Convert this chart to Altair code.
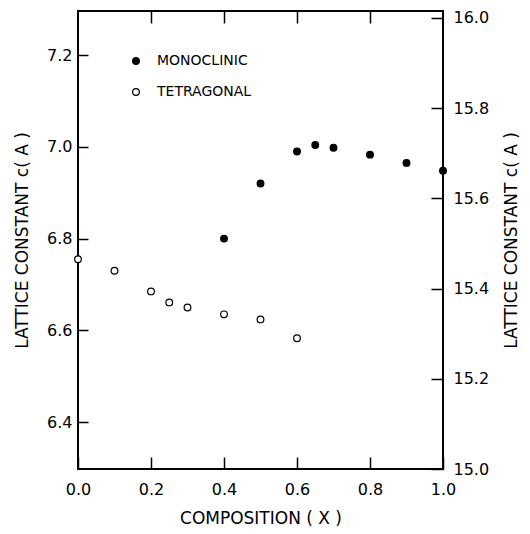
import altair as alt
import pandas as pd

# Data
mono_x = [0.4, 0.5, 0.6, 0.65, 0.7, 0.8, 0.9, 1.0]
mono_c = [6.800, 6.920, 6.990, 7.004, 6.998, 6.983, 6.965, 6.948]
tet_x = [0.0, 0.1, 0.2, 0.25, 0.3, 0.4, 0.5, 0.6]
tet_c = [6.755, 6.730, 6.685, 6.661, 6.650, 6.635, 6.624, 6.583]
series = ["MONOCLINIC", "TETRAGONAL"]

x_ticks = [0.0, 0.2, 0.4, 0.6, 0.8, 1.0]
left_ticks = [6.4, 6.6, 6.8, 7.0, 7.2]
right_ticks = [15.0, 15.2, 15.4, 15.6, 15.8, 16.0]

df = pd.DataFrame({
    "x": mono_x + tet_x,
    "c": mono_c + tet_c,
    "phase": [series[0]] * len(mono_x) + [series[1]] * len(tet_x),
})
right_df = pd.DataFrame({"x": x_ticks, "c2": right_ticks})

FONT = "DejaVu Sans"
xscale = alt.Scale(domain=[0, 1], nice=False, zero=False)

points = alt.Chart(df).mark_point(
    filled=True, size=45, stroke="black", strokeWidth=1.2, opacity=1
).encode(
    x=alt.X("x:Q", scale=xscale, axis=alt.Axis(
        orient="bottom", values=x_ticks, format=".1f",
        title="COMPOSITION  ( X )", offset=-12, tickSize=12,
        labelPadding=12, titlePadding=13, labelFlush=False, labelOverlap=False)),
    y=alt.Y("c:Q", scale=alt.Scale(domain=[6.298, 7.296], nice=False, zero=False),
            axis=alt.Axis(orient="left", values=left_ticks, format=".1f",
                          title="LATTICE  CONSTANT  c( A )", offset=-10, tickSize=10,
                          labelPadding=6, titlePadding=15, labelOverlap=False)),
    fill=alt.Fill("phase:N", scale=alt.Scale(domain=series, range=["black", "white"]),
                  legend=alt.Legend(title=None, orient="none", legendX=51, legendY=43,
                                    symbolType="circle", symbolSize=45,
                                    symbolStrokeColor="black", symbolStrokeWidth=1.2,
                                    labelFontSize=14, labelFont=FONT, labelColor="black",
                                    labelOffset=14, rowPadding=17, padding=0)),
)

right = alt.Chart(right_df).mark_point(opacity=0).encode(
    x=alt.X("x:Q", scale=xscale, axis=alt.Axis(
        orient="top", values=[0.2, 0.4, 0.6, 0.8], labels=False, title="",
        offset=-12, tickSize=12)),
    y=alt.Y("c2:Q", scale=alt.Scale(domain=[15.0, 16.015], nice=False, zero=False),
            axis=alt.Axis(orient="right", values=right_ticks, format=".1f",
                          title="LATTICE  CONSTANT  c( A )", titleAngle=270,
                          offset=-12, tickSize=12, labelPadding=10, titlePadding=32,
                          labelOverlap=False)),
)

chart = alt.layer(points, right).resolve_scale(
    y="independent"
).resolve_axis(
    x="independent", y="independent"
).properties(
    width=365, height=458,
    padding={"left": 70, "top": 3, "right": 79, "bottom": 57},
    autosize=alt.AutoSizeParams(type="none"),
    background="white",
).configure_view(
    stroke="black", strokeWidth=2
).configure_axis(
    domain=False, grid=False,
    labelFont=FONT, labelFontSize=16, labelColor="black",
    titleFont=FONT, titleFontSize=17, titleFontWeight="normal", titleColor="black",
    tickColor="black", tickWidth=1.5,
)

chart.save("out.html", embed_options={"renderer": "svg", "actions": False})
